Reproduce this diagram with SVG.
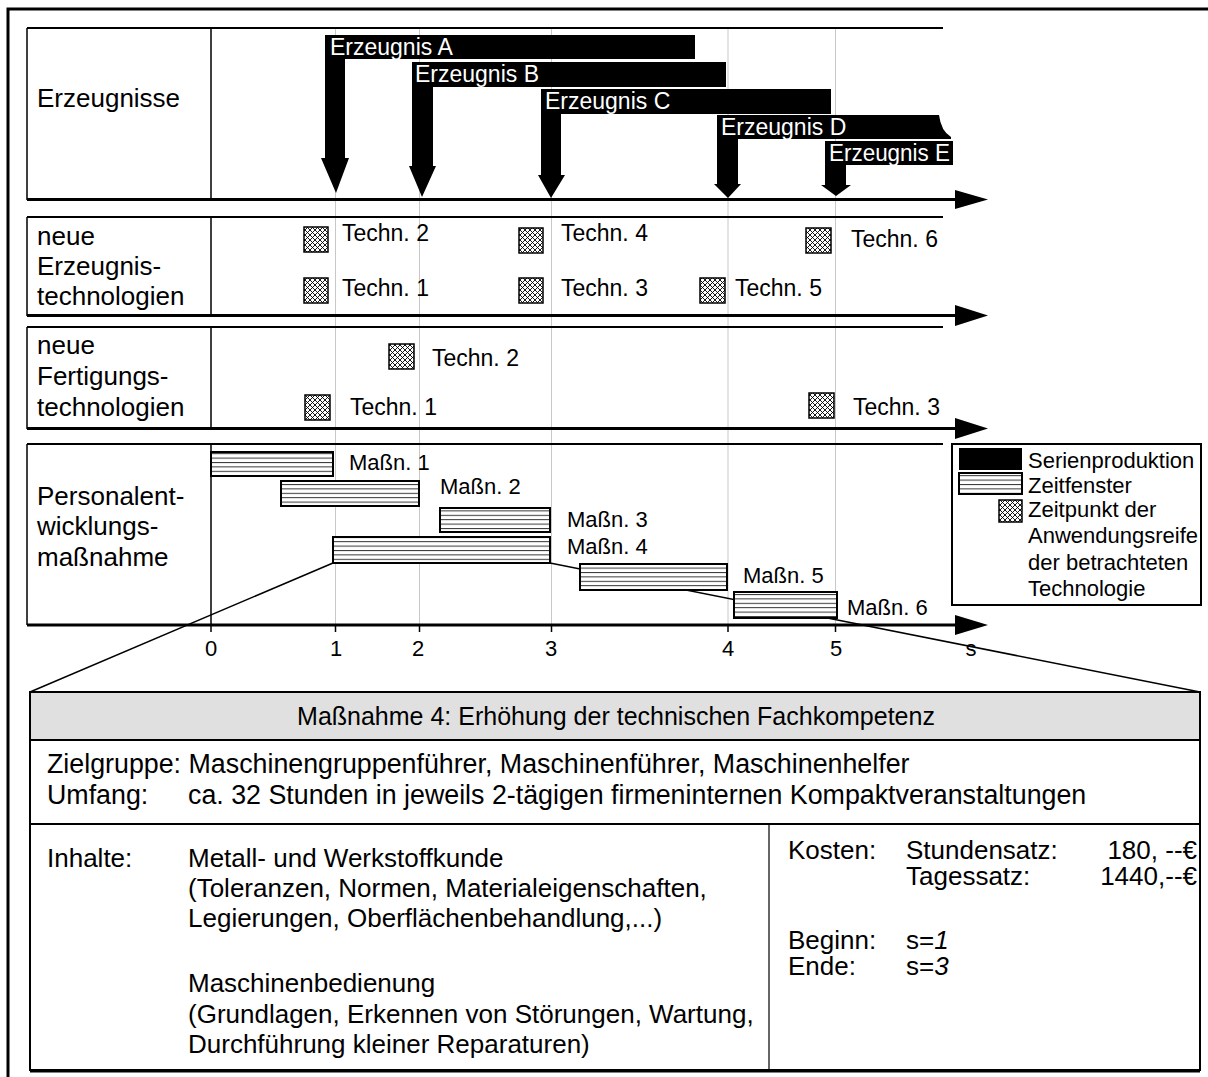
<svg xmlns="http://www.w3.org/2000/svg" width="1208" height="1077" viewBox="0 0 1208 1077">
<defs>
<pattern id="hl" patternUnits="userSpaceOnUse" width="10" height="4.4">
<line x1="0" y1="0.5" x2="10" y2="0.5" stroke="#333" stroke-width="1"/>
</pattern>
<pattern id="xh" patternUnits="userSpaceOnUse" width="5" height="5">
<rect width="5" height="5" fill="#fff"/>
<path d="M0,0 L5,5 M5,0 L0,5" stroke="#000" stroke-width="0.9"/>
</pattern>
</defs>
<style>
text{font-family:"Liberation Sans",Arial,sans-serif;fill:#000}
.lbl{font-size:26px}
.sm{font-size:22px}
.tech{font-size:23px}
.bar{font-size:23px;fill:#fff}
.body{font-size:26px}
.bodyl{font-size:26.8px}
.head{font-size:25px}
.frame{stroke:#000;stroke-width:3;fill:none}
.rowtop{stroke:#000;stroke-width:2;fill:none}
.rowside{stroke:#000;stroke-width:1.5;fill:none}
.axis{stroke:#000;stroke-width:3;fill:none}
.grid{stroke:#c8c8c8;stroke-width:1}
.tick{stroke:#000;stroke-width:1.5}
.sq{fill:url(#xh);stroke:#000;stroke-width:1.5}
.win{fill:#fff;stroke:#000;stroke-width:2}
.winh{fill:url(#hl);stroke:none}
.conn{stroke:#000;stroke-width:1.5;fill:none}
</style>
<rect width="1208" height="1077" fill="#fff"/>
<!-- outer frame -->
<path class="frame" d="M8,1077 V9 H1208"/>
<!-- grid lines -->
<g id="grid">
<line class="grid" x1="335.5" y1="28" x2="335.5" y2="625"/>
<line class="grid" x1="419.5" y1="28" x2="419.5" y2="625"/>
<line class="grid" x1="551.5" y1="28" x2="551.5" y2="625"/>
<line class="grid" x1="728" y1="28" x2="728" y2="625"/>
<line class="grid" x1="835.5" y1="28" x2="835.5" y2="625"/>
</g>
<!-- row 1 -->
<g id="row-erzeugnisse">
<path class="rowtop" d="M27,28 H943"/>
<path class="rowside" d="M27,28 V200 M211,28 V200"/>
<path class="axis" d="M27,199.5 H957"/>
<polygon points="955,190 988,199.5 955,209"/>
<text class="lbl" x="37" y="107">Erzeugnisse</text>
</g>
<g id="erzeugnis-a">
<path d="M325,35 H695 V59 H345 V158 H349 L336,193 L321,158 H325 Z"/>
<text class="bar" x="330" y="55">Erzeugnis A</text>
</g>
<g id="erzeugnis-b">
<path d="M412,62 H726 V87 H433 V166 H436 L422,197 L409,166 H412 Z"/>
<text class="bar" x="415" y="82">Erzeugnis B</text>
</g>
<g id="erzeugnis-c">
<path d="M541,89 H831 V114 H561 V175 H565 L551,198 L538,175 H541 Z"/>
<text class="bar" x="545" y="109">Erzeugnis C</text>
</g>
<g id="erzeugnis-d">
<path d="M717,115 H939 Q941,131 951,137 V139 H738 V184 H741 L728,198 L714,184 H717 Z"/>
<text class="bar" x="721" y="135">Erzeugnis D</text>
</g>
<g id="erzeugnis-e">
<path d="M825,141 H953 V165 H846 V185 H851 L836,196 L821,185 H825 Z"/>
<text class="bar" x="829" y="161" textLength="121" lengthAdjust="spacingAndGlyphs">Erzeugnis E</text>
</g>
<!-- row 2 -->
<g id="row-erzeugnistechnologien">
<path class="rowtop" d="M27,217 H943"/>
<path class="rowside" d="M27,217 V316 M211,217 V316"/>
<path class="axis" d="M27,315.5 H957"/>
<polygon points="955,305 988,315.5 955,326"/>
<text class="lbl" x="37" y="245">neue</text>
<text class="lbl" x="37" y="275">Erzeugnis-</text>
<text class="lbl" x="37" y="305">technologien</text>
</g>
<g id="et-2"><rect class="sq" x="304" y="227" width="24" height="25"/><text class="tech" x="342" y="241">Techn. 2</text></g>
<g id="et-1"><rect class="sq" x="304" y="278" width="24" height="25"/><text class="tech" x="342" y="296">Techn. 1</text></g>
<g id="et-4"><rect class="sq" x="519" y="228" width="24" height="25"/><text class="tech" x="561" y="241">Techn. 4</text></g>
<g id="et-3"><rect class="sq" x="519" y="278" width="24" height="25"/><text class="tech" x="561" y="296">Techn. 3</text></g>
<g id="et-5"><rect class="sq" x="700" y="278" width="25" height="25"/><text class="tech" x="735" y="296">Techn. 5</text></g>
<g id="et-6"><rect class="sq" x="806" y="228" width="25" height="25"/><text class="tech" x="851" y="247">Techn. 6</text></g>
<!-- row 3 -->
<g id="row-fertigungstechnologien">
<path class="rowtop" d="M27,327 H943"/>
<path class="rowside" d="M27,327 V429 M211,327 V429"/>
<path class="axis" d="M27,428.5 H957"/>
<polygon points="955,418 988,428.5 955,439"/>
<text class="lbl" x="37" y="354">neue</text>
<text class="lbl" x="37" y="385">Fertigungs-</text>
<text class="lbl" x="37" y="416">technologien</text>
</g>
<g id="ft-2"><rect class="sq" x="389" y="344" width="25" height="25"/><text class="tech" x="432" y="366">Techn. 2</text></g>
<g id="ft-1"><rect class="sq" x="305" y="395" width="25" height="25"/><text class="tech" x="350" y="415">Techn. 1</text></g>
<g id="ft-3"><rect class="sq" x="809" y="393" width="25" height="25"/><text class="tech" x="853" y="415">Techn. 3</text></g>
<!-- connectors (zoom lines) -->
<g id="connectors">
<line class="conn" x1="333" y1="563" x2="30" y2="692"/>
<line class="conn" x1="550" y1="563" x2="1200" y2="692"/>
</g>
<!-- row 4 -->
<g id="row-personal">
<path class="rowtop" d="M27,444 H943"/>
<path class="rowside" d="M27,444 V625 M211,444 V625"/>
<path class="axis" d="M27,625 H957"/>
<polygon points="955,615 988,625 955,635"/>
<text class="lbl" x="37" y="505">Personalent-</text>
<text class="lbl" x="37" y="535">wicklungs-</text>
<text class="lbl" x="37" y="566">maßnahme</text>
</g>
<g id="massn-1"><rect class="win" x="211" y="452" width="122" height="24"/><rect class="winh" x="212" y="453" width="120" height="22"/><text class="sm" x="349" y="470">Maßn. 1</text></g>
<g id="massn-2"><rect class="win" x="281" y="481" width="138" height="25"/><rect class="winh" x="282" y="482" width="136" height="23"/><text class="sm" x="440" y="494">Maßn. 2</text></g>
<g id="massn-3"><rect class="win" x="440" y="508" width="110" height="24"/><rect class="winh" x="441" y="509" width="108" height="22"/><text class="sm" x="567" y="527">Maßn. 3</text></g>
<g id="massn-4"><rect class="win" x="333" y="537" width="217" height="26"/><rect class="winh" x="334" y="538" width="215" height="24"/><text class="sm" x="567" y="554">Maßn. 4</text></g>
<g id="massn-5"><rect class="win" x="580" y="564" width="147" height="26"/><rect class="winh" x="581" y="565" width="145" height="24"/><text class="sm" x="743" y="583">Maßn. 5</text></g>
<g id="massn-6"><rect class="win" x="734" y="592" width="103" height="26"/><rect class="winh" x="735" y="593" width="101" height="24"/><text class="sm" x="847" y="615">Maßn. 6</text></g>
<!-- axis ticks and labels -->
<g id="axis-labels">
<line class="tick" x1="211" y1="625" x2="211" y2="632"/>
<line class="tick" x1="335.5" y1="625" x2="335.5" y2="632"/>
<line class="tick" x1="419.5" y1="625" x2="419.5" y2="632"/>
<line class="tick" x1="551.5" y1="625" x2="551.5" y2="632"/>
<line class="tick" x1="728" y1="625" x2="728" y2="632"/>
<line class="tick" x1="835.5" y1="625" x2="835.5" y2="632"/>
<text class="sm" x="211" y="656" text-anchor="middle">0</text>
<text class="sm" x="336" y="656" text-anchor="middle">1</text>
<text class="sm" x="418" y="656" text-anchor="middle">2</text>
<text class="sm" x="551" y="656" text-anchor="middle">3</text>
<text class="sm" x="728" y="656" text-anchor="middle">4</text>
<text class="sm" x="836" y="656" text-anchor="middle">5</text>
<text class="sm" x="971" y="656" text-anchor="middle">s</text>
</g>
<!-- legend -->
<g id="legend">
<rect x="952" y="444" width="249" height="161" fill="#fff" stroke="#000" stroke-width="2"/>
<rect x="959" y="448" width="63" height="22" fill="#000"/>
<text class="sm" x="1028" y="468">Serienproduktion</text>
<rect class="win" x="959" y="473" width="63" height="21"/>
<rect class="winh" x="960" y="474" width="61" height="19"/>
<text class="sm" x="1028" y="493">Zeitfenster</text>
<rect class="sq" x="999" y="500" width="23" height="22"/>
<text class="sm" x="1028" y="517">Zeitpunkt der</text>
<text class="sm" x="1028" y="543">Anwendungsreife</text>
<text class="sm" x="1028" y="570">der betrachteten</text>
<text class="sm" x="1028" y="596">Technologie</text>
</g>
<!-- detail box -->
<g id="detail-box">
<rect x="30" y="692" width="1170" height="378" fill="#fff" stroke="#000" stroke-width="2"/>
<rect x="31" y="693" width="1168" height="47" fill="#e0e0e0"/>
<line x1="30" y1="740" x2="1200" y2="740" stroke="#000" stroke-width="2"/>
<line x1="30" y1="824" x2="1200" y2="824" stroke="#000" stroke-width="2"/>
<line x1="769" y1="824" x2="769" y2="1070" stroke="#000" stroke-width="1.2"/>
<line x1="30" y1="1071" x2="1200" y2="1071" stroke="#000" stroke-width="3"/>
<text class="head" x="616" y="725" text-anchor="middle">Maßnahme 4: Erhöhung der technischen Fachkompetenz</text>
<text class="bodyl" x="47" y="773">Zielgruppe: Maschinengruppenführer, Maschinenführer, Maschinenhelfer</text>
<text class="bodyl" x="47" y="804">Umfang:</text>
<text class="bodyl" x="188" y="804">ca. 32 Stunden in jeweils 2-tägigen firmeninternen Kompaktveranstaltungen</text>
<text class="body" x="47" y="867">Inhalte:</text>
<text class="body" x="188" y="867">Metall- und Werkstoffkunde</text>
<text class="body" x="188" y="897">(Toleranzen, Normen, Materialeigenschaften,</text>
<text class="body" x="188" y="927">Legierungen, Oberflächenbehandlung,...)</text>
<text class="body" x="188" y="992">Maschinenbedienung</text>
<text class="body" x="188" y="1023">(Grundlagen, Erkennen von Störungen, Wartung,</text>
<text class="body" x="188" y="1053">Durchführung kleiner Reparaturen)</text>
<text class="body" x="788" y="859">Kosten:</text>
<text class="body" x="906" y="859">Stundensatz:</text>
<text class="body" x="1197" y="859" text-anchor="end">180, --€</text>
<text class="body" x="906" y="885">Tagessatz:</text>
<text class="body" x="1197" y="885" text-anchor="end">1440,--€</text>
<text class="body" x="788" y="949">Beginn:</text>
<text class="body" x="906" y="949">s=<tspan font-style="italic">1</tspan></text>
<text class="body" x="788" y="975">Ende:</text>
<text class="body" x="906" y="975">s=<tspan font-style="italic">3</tspan></text>
</g>
</svg>
